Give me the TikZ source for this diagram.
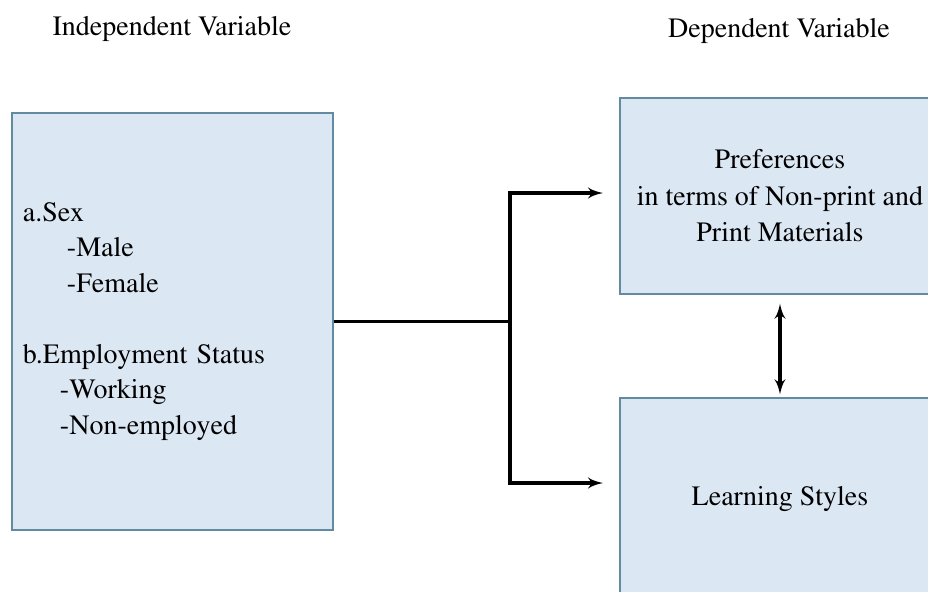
\documentclass[tikz,border=0pt]{standalone}
\usepackage[T1]{fontenc}
\usepackage{times}
\usepackage{tikz}
\usetikzlibrary{shapes,arrows,calc}
\definecolor{boxfill}{RGB}{220,231,244}
\definecolor{boxedge}{RGB}{98,138,160}
\tikzstyle{block} = [draw=boxedge, fill=boxfill, line width=0.7pt, rectangle]
\tikzstyle{arrow} = [draw, line width=1.6pt, -latex']
\tikzstyle{dblarrow} = [draw, line width=1.6pt, latex'-latex']
\tikzstyle{line} = [draw, line width=1.6pt]
\tikzstyle{title} = [font=\fontsize{14}{17}\selectfont, anchor=base]

\begin{document}
\begin{tikzpicture}[x=0.5pt, y=-0.5pt]
      \useasboundingbox (0,0) rectangle (928,591);
      \clip (0,0) rectangle (928,591);

      \node[title] (indtitle) at (172, 35) {Independent Variable};
      \node[title] (deptitle) at (779, 37) {Dependent Variable};

      \node[block, minimum width=160.5pt, minimum height=208.5pt, text width=149.5pt,
            inner xsep=5.5pt, align=left, font=\fontsize{14}{17.75}\selectfont]
            (indep) at (172.5, 321.5) {a.Sex\\
            \hspace*{22pt}-Male\\
            \hspace*{22pt}-Female\\[17.75pt]
            b.Employment Status\\
            \hspace*{18.5pt}-Working\\
            \hspace*{18.5pt}-Non-employed};

      \node[block, minimum width=160pt, minimum height=98pt, align=center,
            font=\fontsize{14}{18.25}\selectfont]
            (pref) at (780, 196) {Preferences\\ in terms of Non-print and\\ Print Materials};
      \node[block, minimum width=160pt, minimum height=101pt,
            font=\fontsize{14}{17}\selectfont]
            (learn) at (780, 499) {Learning Styles};

      \coordinate (junc) at (510, 321.5);
      \coordinate (ptop) at (603, 193);
      \coordinate (pbot) at (603, 483);

      \draw[line] (indep.east) -- (junc);
      \draw[arrow] (junc) |- (ptop);
      \draw[arrow] (junc) |- (pbot);
      \draw[dblarrow, shorten <=4.5pt, shorten >=1.5pt] (pref.south) -- (learn.north);
    \end{tikzpicture}
\end{document}
